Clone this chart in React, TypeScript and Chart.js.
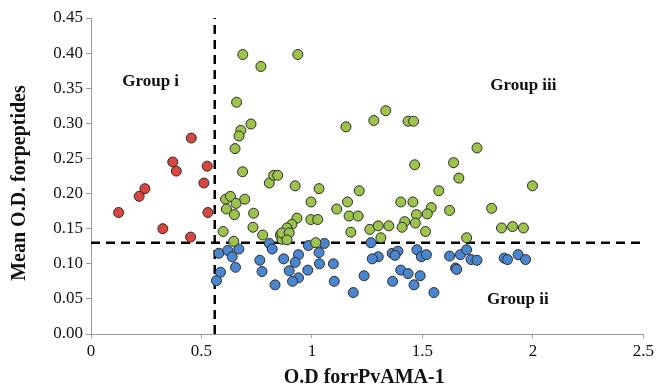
import React, { useEffect, useRef } from "react";
import { Chart, registerables } from "chart.js";

Chart.register(...registerables);

// ---- data ----
const xTickValues = [0, 0.5, 1, 1.5, 2, 2.5];
const yTickValues = [0, 0.05, 0.1, 0.15, 0.2, 0.25, 0.3, 0.35, 0.4, 0.45];

const cutoffX = 0.56; // O.D cut-off for rPvAMA-1
const cutoffY = 0.13; // O.D cut-off for peptides

const groupI: [number, number][] = [
  [0.125, 0.173], [0.218, 0.196], [0.244, 0.207], [0.325, 0.15], [0.37, 0.245],
  [0.386, 0.232], [0.451, 0.138], [0.454, 0.279], [0.511, 0.215], [0.526, 0.239],
  [0.529, 0.173],
];

const groupIII: [number, number][] = [
  [0.687, 0.398], [0.769, 0.381], [0.659, 0.33], [0.724, 0.299], [0.678, 0.29],
  [0.67, 0.282], [0.652, 0.264], [0.686, 0.231], [0.807, 0.215], [0.827, 0.226],
  [0.845, 0.226], [0.609, 0.192], [0.631, 0.196], [0.657, 0.186], [0.696, 0.192],
  [0.613, 0.178], [0.649, 0.17], [0.736, 0.172], [0.733, 0.152], [0.598, 0.146],
  [0.777, 0.141], [0.646, 0.132], [0.857, 0.141], [0.864, 0.135],
  [0.936, 0.398], [1.154, 0.295], [1.28, 0.304], [1.334, 0.318], [1.435, 0.303],
  [1.46, 0.303], [1.465, 0.241], [1.641, 0.244], [1.665, 0.222],
  [0.924, 0.211], [1.032, 0.207], [1.214, 0.204], [1.574, 0.204], [0.996, 0.188],
  [1.161, 0.188], [1.112, 0.178], [1.402, 0.188], [1.457, 0.188], [1.54, 0.18],
  [1.522, 0.171], [1.623, 0.176], [0.932, 0.165], [0.995, 0.163], [1.026, 0.163],
  [1.168, 0.168], [1.209, 0.168], [1.473, 0.17], [1.42, 0.16], [1.468, 0.158],
  [1.408, 0.152], [1.514, 0.146],
  [0.909, 0.156], [0.887, 0.151], [0.864, 0.144], [0.897, 0.144], [0.887, 0.134],
  [1.176, 0.145], [1.262, 0.149], [1.3, 0.154], [1.348, 0.154], [1.017, 0.13],
  [1.312, 0.137], [1.7, 0.137],
  [1.747, 0.265], [1.998, 0.211], [1.813, 0.179], [1.858, 0.151], [1.908, 0.153],
  [1.957, 0.151],
];

const groupII: [number, number][] = [
  [0.579, 0.115], [0.619, 0.119], [0.669, 0.121], [0.639, 0.11], [0.654, 0.095],
  [0.586, 0.088], [0.568, 0.076], [0.764, 0.105], [0.774, 0.089], [0.833, 0.07],
  [0.807, 0.129], [0.82, 0.121],
  [0.939, 0.113], [0.984, 0.126], [1.032, 0.116], [1.056, 0.129], [0.872, 0.107],
  [0.924, 0.102], [1.034, 0.1], [1.097, 0.1], [0.897, 0.09], [0.981, 0.091],
  [0.939, 0.08], [0.912, 0.075], [1.101, 0.075], [1.187, 0.059], [1.236, 0.083],
  [1.267, 0.13], [1.3, 0.11], [1.273, 0.107], [1.363, 0.115], [1.389, 0.118],
  [1.376, 0.112], [1.402, 0.091], [1.435, 0.086], [1.365, 0.075], [1.475, 0.12],
  [1.495, 0.11], [1.518, 0.113], [1.49, 0.083], [1.462, 0.07], [1.552, 0.059],
  [1.623, 0.111], [1.672, 0.113], [1.65, 0.094], [1.655, 0.092], [1.7, 0.12],
  [1.72, 0.106], [1.747, 0.105], [1.87, 0.108], [1.885, 0.106], [1.933, 0.113],
  [1.967, 0.106],
];

const groupLabels: { text: string; x: number; y: number }[] = [
  { text: "Group i", x: 0.27, y: 0.359 },
  { text: "Group iii", x: 1.957, y: 0.354 },
  { text: "Group ii", x: 1.932, y: 0.049 },
];

const xTitle = "O.D forrPvAMA-1";
const yTitle = "Mean O.D. forpeptides";

const SERIF = "'Liberation Serif', 'Times New Roman', serif";

const toPts = (arr: [number, number][]) => arr.map(([x, y]) => ({ x, y }));

const textPlugin = {
  id: "textPlugin",
  afterDraw(chart: any) {
    const ctx = chart.ctx as CanvasRenderingContext2D;
    const xs = chart.scales.x;
    const ys = chart.scales.y;
    ctx.save();
    ctx.fillStyle = "#111";
    ctx.textAlign = "center";
    ctx.textBaseline = "middle";
    ctx.font = `bold 17px ${SERIF}`;
    groupLabels.forEach((l) => {
      ctx.fillText(l.text, xs.getPixelForValue(l.x), ys.getPixelForValue(l.y));
    });
    ctx.font = `bold 20px ${SERIF}`;
    ctx.fillText(xTitle, (chart.chartArea.left + chart.chartArea.right) / 2 - 3, 378);
    ctx.translate(20, (chart.chartArea.top + chart.chartArea.bottom) / 2 + 7);
    ctx.rotate(-Math.PI / 2);
    ctx.fillText(yTitle, 0, 0);
    ctx.restore();
  },
};

export default function App() {
  const ref = useRef<HTMLCanvasElement>(null);
  useEffect(() => {
    document.body.style.margin = "0";
    const pointStyle = (color: string) => ({
      backgroundColor: color,
      borderColor: "#2b2b2b",
      borderWidth: 1,
      pointRadius: 5,
      pointHoverRadius: 5,
      showLine: false,
      order: 0,
    });
    const lineStyle = {
      borderColor: "#000",
      borderWidth: 2.5,
      borderDash: [9, 6],
      pointRadius: 0,
      showLine: true,
      fill: false,
      order: 1,
    };
    const chart = new Chart(ref.current as HTMLCanvasElement, {
      type: "scatter",
      data: {
        datasets: [
          { label: "Group i", data: toPts(groupI), ...pointStyle("#d8473f") },
          { label: "Group iii", data: toPts(groupIII), ...pointStyle("#9cc44c") },
          { label: "Group ii", data: toPts(groupII), ...pointStyle("#4a86cf") },
          {
            label: "cut-off x",
            data: [
              { x: cutoffX, y: 0 },
              { x: cutoffX, y: 0.45 },
            ],
            ...lineStyle,
          },
          {
            label: "cut-off y",
            data: [
              { x: 0, y: cutoffY },
              { x: 2.5, y: cutoffY },
            ],
            ...lineStyle,
          },
        ] as any,
      },
      options: {
        responsive: false,
        animation: false,
        devicePixelRatio: 1,
        layout: { padding: { top: 18, right: 11, left: 0, bottom: 0 } },
        plugins: {
          legend: { display: false },
          tooltip: { enabled: false },
        },
        scales: {
          x: {
            type: "linear",
            min: 0,
            max: 2.5,
            afterFit: (s: any) => {
              s.height = 56;
            },
            afterBuildTicks: (s: any) => {
              s.ticks = xTickValues.map((v) => ({ value: v }));
            },
            grid: { display: true, drawOnChartArea: false, drawTicks: true, tickLength: 4, color: "#9a9a9a" },
            border: { display: true, color: "#9a9a9a", width: 1 },
            ticks: {
              color: "#111",
              font: { family: SERIF, size: 17 },
              padding: 3,
              maxRotation: 0,
              autoSkip: false,
              callback: (v: any) => String(v),
            },
          },
          y: {
            type: "linear",
            min: 0,
            max: 0.45,
            afterFit: (s: any) => {
              s.width = 91;
            },
            afterBuildTicks: (s: any) => {
              s.ticks = yTickValues.map((v) => ({ value: v }));
            },
            grid: { display: true, drawOnChartArea: false, drawTicks: true, tickLength: 5, color: "#9a9a9a" },
            border: { display: true, color: "#9a9a9a", width: 1 },
            ticks: {
              color: "#111",
              font: { family: SERIF, size: 17 },
              padding: 3,
              autoSkip: false,
              callback: (v: any) => Number(v).toFixed(2),
            },
          },
        },
      } as any,
      plugins: [textPlugin],
    });
    return () => chart.destroy();
  }, []);
  return (
    <div style={{ position: "fixed", left: 0, top: 0, width: 657, height: 390, background: "#fff" }}>
      <canvas ref={ref} width={657} height={390} style={{ width: 657, height: 390, display: "block" }} />
    </div>
  );
}
